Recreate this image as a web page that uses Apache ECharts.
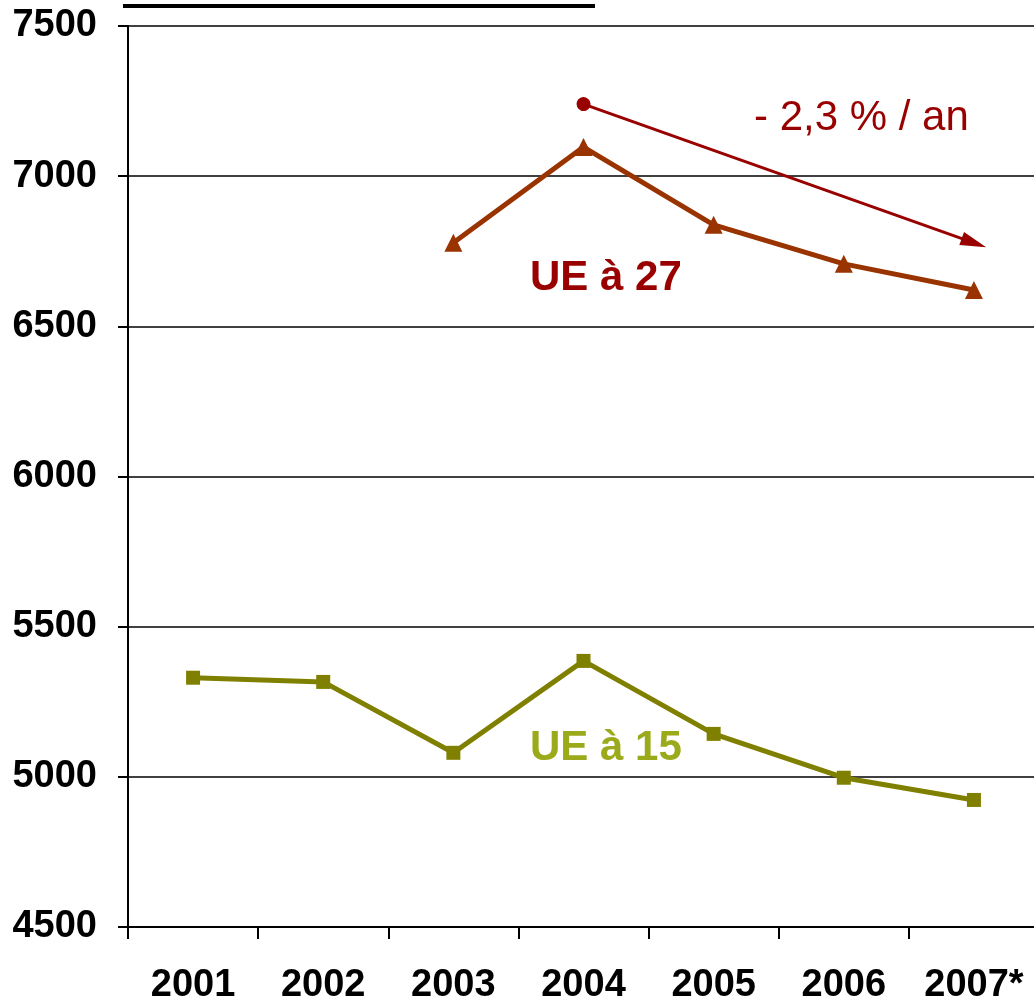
<!DOCTYPE html>
<html>
<head>
<meta charset="utf-8">
<script src="https://cdn.jsdelivr.net/npm/echarts@6/dist/echarts.min.js"></script>
<style>
  html, body { margin: 0; padding: 0; background: #fff; }
  #chart { width: 1034px; height: 999px; }
</style>
</head>
<body>
<div id="chart"></div>
<script>
var years = ['2001', '2002', '2003', '2004', '2005', '2006', '2007*']
var ue15 = [5330, 5316, 5080, 5386, 5143, 4997, 4923]
var ue27 = [null, null, 6778, 7097, 6838, 6708, 6621]
// trend arrow from 2004 to 2007
var trendFrom = ['2004', 7240]
var trendTo = ['2007*', 6778]
var yTicks = [4500, 5000, 5500, 6000, 6500, 7000, 7500]

var chart = echarts.init(document.getElementById('chart'))
var font = 'Liberation Sans, Arial, sans-serif'

var options = {
    animation: false,
    grid: { left: 128, top: 26, width: 911, height: 901, outerBoundsMode: 'none', containLabel: false },
    xAxis: {
        type: 'category',
        data: years,
        boundaryGap: true,
        axisLine: { lineStyle: { color: '#000', width: 2 } },
        axisTick: { show: true, length: 12, lineStyle: { color: '#000', width: 2 } },
        axisLabel: {
            margin: 40,
            color: '#000',
            fontFamily: font,
            fontWeight: 'bold',
            fontSize: 38
        },
        splitLine: { show: false }
    },
    yAxis: {
        type: 'value',
        min: yTicks[0],
        max: yTicks[yTicks.length - 1],
        interval: 500,
        axisLine: { show: true, lineStyle: { color: '#000', width: 2 } },
        axisTick: { show: true, length: 10, lineStyle: { color: '#000', width: 2 } },
        axisLabel: {
            margin: 31,
            color: '#000',
            fontFamily: font,
            fontWeight: 'bold',
            fontSize: 38,
            formatter: function (v) { return String(v) }
        },
        splitLine: { show: true, lineStyle: { color: '#000', width: 1.5 } }
    },
    series: [
        {
            name: 'UE à 15',
            type: 'line',
            data: ue15,
            symbol: 'rect',
            symbolSize: 14,
            lineStyle: { color: '#808000', width: 5 },
            itemStyle: { color: '#808000' }
        },
        {
            name: 'UE à 27',
            type: 'line',
            data: ue27,
            symbol: 'triangle',
            symbolSize: 18,
            lineStyle: { color: '#993300', width: 5 },
            itemStyle: { color: '#993300' }
        },
        {
            name: 'tendance',
            type: 'line',
            data: [],
            markLine: {
                silent: true,
                symbol: ['circle', 'triangle'],
                symbolSize: [14, 26],
                label: { show: false },
                lineStyle: { color: '#990000', width: 3, type: 'solid' },
                data: [[
                    { coord: trendFrom },
                    { coord: trendTo }
                ]]
            }
        }
    ],
    graphic: [
        { type: 'rect', shape: { x: 123, y: 4, width: 472, height: 4 }, style: { fill: '#000' } },
        {
            type: 'text', left: 754, top: 97,
            style: { text: '- 2,3 % / an', fill: '#990000', font: '42px ' + font }
        },
        {
            type: 'text', left: 530, top: 257,
            style: { text: 'UE à 27', fill: '#990000', font: 'bold 42px ' + font }
        },
        {
            type: 'text', left: 530, top: 727,
            style: { text: 'UE à 15', fill: '#9BAA1B', font: 'bold 42px ' + font }
        }
    ]
}

chart.setOption(options, true)
</script>
</body>
</html>
